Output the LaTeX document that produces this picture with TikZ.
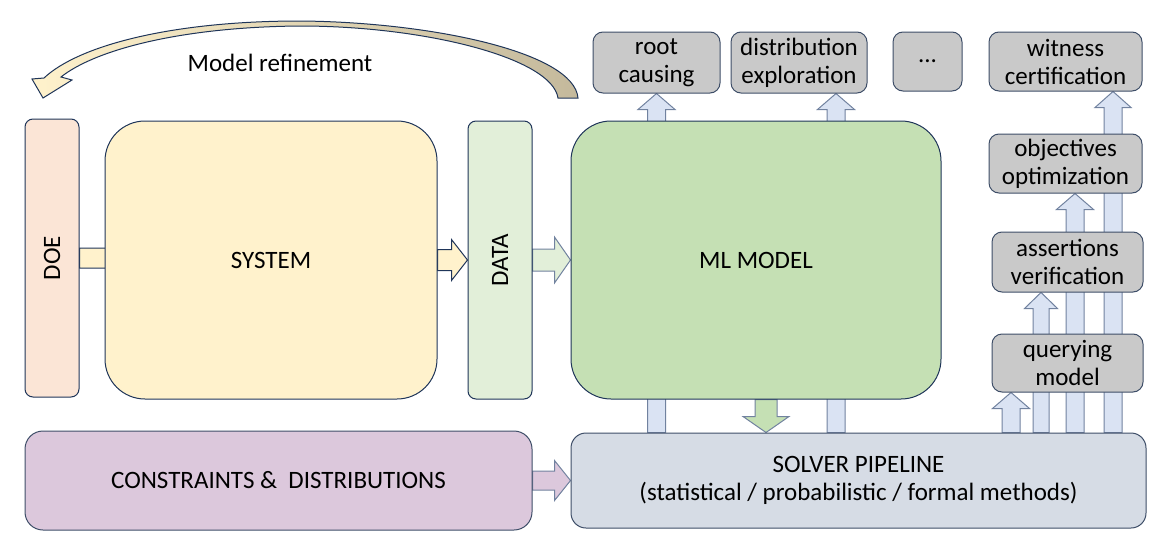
\documentclass[tikz,border=0pt]{standalone}
\usepackage{fontspec}
\setmainfont{Carlito}
\usetikzlibrary{calc,backgrounds}

\definecolor{doeorange}{HTML}{FBE5D6}
\definecolor{sysyellow}{HTML}{FFF2CC}
\definecolor{datagreen}{HTML}{E2EFD9}
\definecolor{mlgreen}{HTML}{C5E0B4}
\definecolor{taskgray}{HTML}{C9C9C9}
\definecolor{consviolet}{HTML}{DCC8DC}
\definecolor{solverblue}{HTML}{D6DCE5}
\definecolor{arrowblue}{HTML}{DAE3F3}
\definecolor{refinetan}{HTML}{C4B99C}
\definecolor{navyline}{HTML}{1F3559}
\definecolor{slateline}{HTML}{3E4E68}
\definecolor{arrowline}{HTML}{71829F}

\tikzset{
  box/.style={draw=navyline, line width=1pt, align=center, inner sep=0pt},
  bigbox/.style={box, rounded corners=40pt},
  barbox/.style={box, rounded corners=8pt},
  taskbox/.style={box, draw=slateline, fill=taskgray, rounded corners=10pt},
  blockarr/.style={draw=arrowline, line width=1pt, line join=miter},
}

% block arrow: [style]{start}{tip}{shaft half width}{head half width}
\newcommand{\blockarrow}[5][]{%
  \coordinate (ba-s) at (#2);
  \coordinate (ba-t) at (#3);
  \coordinate (ba-h) at ($(ba-t)!16pt!(ba-s)$);
  \draw[blockarr,#1] ($(ba-s)!#4!90:(ba-t)$) -- ($(ba-h)!#4!-90:(ba-s)$)
    -- ($(ba-h)!#5!-90:(ba-s)$) -- (ba-t) -- ($(ba-h)!#5!90:(ba-s)$)
    -- ($(ba-h)!#4!90:(ba-s)$) -- ($(ba-s)!#4!-90:(ba-t)$) -- cycle;}

\begin{document}
\begin{tikzpicture}[x=1pt, y=-1pt, font=\fontsize{25}{28}\selectfont]
\useasboundingbox (0,0) rectangle (1162,546);

% main row
\node[barbox, fill=doeorange, minimum width=54pt, minimum height=278pt] (doe) at (52,258) {};
\node[rotate=90] (doetext) at (doe.center) {DOE};
\node[bigbox, fill=sysyellow, minimum width=332pt, minimum height=278pt] (sys) at (271,260) {SYSTEM};
\node[barbox, fill=datagreen, minimum width=64pt, minimum height=278pt] (data) at (500,260) {};
\node[rotate=90] (datatext) at (data.center) {DATA};
\node[bigbox, fill=mlgreen, minimum width=370pt, minimum height=278pt] (ml) at (756,260) {ML MODEL};

% tasks
\node[taskbox, minimum width=127pt, minimum height=61pt] (root) at (656.5,62.5) {root\\causing};
\node[taskbox, minimum width=136pt, minimum height=61pt] (dist) at (799,62.5) {distribution\\exploration};
\node[taskbox, minimum width=69pt, minimum height=59pt] (dots) at (927.5,61.5) {...};
\node[taskbox, minimum width=153pt, minimum height=59pt] (witness) at (1065.5,61.5) {witness\\certification};
\node[taskbox, minimum width=153pt, minimum height=59pt] (objectives) at (1065.5,163.5) {objectives\\optimization};
\node[taskbox, minimum width=151pt, minimum height=60pt] (assertions) at (1067.5,262) {assertions\\verification};
\node[taskbox, minimum width=151pt, minimum height=58pt] (querying) at (1067.5,363) {querying\\model};

% bottom row
\node[box, draw=slateline, fill=consviolet, rounded corners=18pt, minimum width=507pt, minimum height=99pt] (cons) at (278.5,480.5) {CONSTRAINTS \&\ \ DISTRIBUTIONS};
\node[box, draw=slateline, fill=solverblue, rounded corners=15pt, minimum width=575pt, minimum height=95pt] (solver) at (858.5,480.5) {SOLVER PIPELINE\\(statistical / probabilistic / formal methods)};

\node (refine) at (280,63) {Model refinement};

\begin{scope}[on background layer]
  \blockarrow[fill=sysyellow, draw=navyline]{doe.east}{$(doe.east)+(80,0)$}{10pt}{20pt}
  \blockarrow[fill=sysyellow, draw=navyline]{sys.east}{data.west}{10.5pt}{20.5pt}
  \blockarrow[fill=datagreen]{data.east}{ml.west}{11pt}{23pt}
  \blockarrow[fill=mlgreen]{ml.south -| 766,0}{solver.north -| 766,0}{11pt}{23pt}
  \blockarrow[fill=consviolet]{cons.east}{solver.west}{9.5pt}{20pt}
  % results of the solver
  \blockarrow[fill=arrowblue]{solver.north -| root.south}{root.south}{9pt}{18.5pt}
  \blockarrow[fill=arrowblue]{solver.north -| 836,0}{dist.south -| 836,0}{9pt}{18.5pt}
  \blockarrow[fill=arrowblue]{solver.north -| 1011,0}{querying.south -| 1011,0}{9pt}{18.5pt}
  \blockarrow[fill=arrowblue]{solver.north -| 1041,0}{assertions.south -| 1041,0}{8pt}{16.5pt}
  \blockarrow[fill=arrowblue]{solver.north -| 1075,0}{objectives.south -| 1075,0}{9pt}{18.5pt}
  \blockarrow[fill=arrowblue]{solver.north -| 1113,0}{witness.south -| 1113,0}{9pt}{18pt}
\end{scope}

% curved arrow back to the doe
\draw[navyline, line width=1pt, left color=sysyellow, right color=refinetan]
  (578,98) .. controls (574,52) and (430,22) .. (300,21)
  .. controls (170,21) and (78,46) .. (44,78)
  -- (32,79) -- (43,98) -- (72,80) -- (61,77)
  .. controls (95,50) and (180,27) .. (300,26)
  .. controls (425,26) and (552,58) .. (558,98) -- cycle;
\end{tikzpicture}
\end{document}
